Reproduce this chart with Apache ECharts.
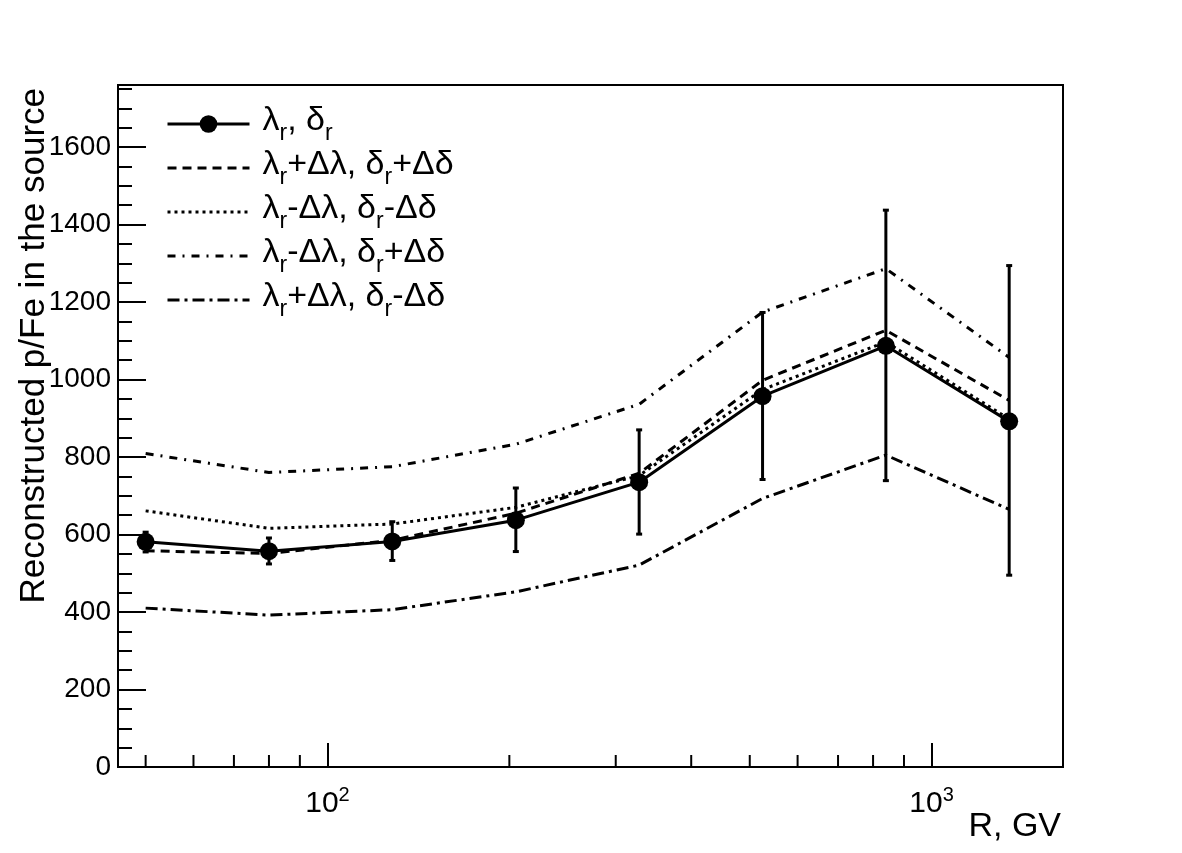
<!DOCTYPE html>
<html><head><meta charset="utf-8">
<script src="https://cdn.jsdelivr.net/npm/echarts@6/dist/echarts.min.js"></script>
<style>html,body{margin:0;padding:0;background:#fff}#c{width:1182px;height:853px}</style>
</head><body><div id="c"></div>
<script>
// ---- data ----
const rigidity   = [50, 80, 128, 205, 328, 525, 840, 1344];           // R, GV
const nominal    = [581, 557, 582, 637, 735, 957, 1087, 892];         // λr, δr
const errLow     = [555, 524, 533, 556, 601, 742, 739, 495];
const errHigh    = [606, 591, 633, 720, 870, 1173, 1437, 1294];
const plusPlus   = [558, 551, 585, 655, 758, 998, 1127, 946];         // λr+Δλ, δr+Δδ
const minusMinus = [661, 616, 627, 670, 752, 974, 1097, 898];         // λr-Δλ, δr-Δδ
const minusPlus  = [809, 760, 775, 833, 936, 1174, 1286, 1057];       // λr-Δλ, δr+Δδ
const plusMinus  = [410, 392, 406, 452, 521, 693, 805, 665];          // λr+Δλ, δr-Δδ
const xMinorTicks = [50, 60, 70, 80, 90, 200, 300, 400, 500, 600, 700, 800, 900];
const seriesNames = ['λr, δr', 'λr+Δλ, δr+Δδ', 'λr-Δλ, δr-Δδ', 'λr-Δλ, δr+Δδ', 'λr+Δλ, δr-Δδ'];
const yTitle = 'Reconstructed p/Fe in the source';
const xTitle = 'R, GV';

const FONT = '"Liberation Sans", Arial, Helvetica, sans-serif';
const pairs = arr => rigidity.map((r, i) => [r, arr[i]]);

function richName(name) {
  // every 'r' in the names is a subscript
  const parts = name.split('r');
  let s = '{g|}';
  parts.forEach((p, i) => {
    if (p) s += '{t|' + p + '}';
    if (i < parts.length - 1) s += '{s|r}';
  });
  return s;
}

const chart = echarts.init(document.getElementById('c'));
const lineBase = (name, data, type) => ({
  name, type: 'line', data, symbol: 'none', showSymbol: false, z: 3,
  lineStyle: { color: '#000', width: 3, type },
  itemStyle: { color: '#000', opacity: 0 }, silent: true, animation: false
});

chart.setOption({
  animation: false,
  backgroundColor: '#fff',
  grid: { left: 118, right: 119, top: 85, bottom: 86, show: true, borderColor: '#000', borderWidth: 2, backgroundColor: 'transparent' },
  xAxis: {
    type: 'log', logBase: 10, min: 45, max: 1650,
    axisLine: { show: true, lineStyle: { color: '#000', width: 2 } },
    axisTick: { show: true, inside: true, length: 24, lineStyle: { color: '#000', width: 2 } },
    splitLine: { show: false },
    axisLabel: {
      showMinLabel: false, showMaxLabel: false, margin: 18,
      formatter: v => '{b|10}{e|' + Math.round(Math.log10(v)) + '}',
      rich: {
        b: { fontSize: 30, fontFamily: FONT, color: '#000', lineHeight: 34, verticalAlign: 'bottom' },
        e: { fontSize: 20, fontFamily: FONT, color: '#000', lineHeight: 20, verticalAlign: 'top' }
      }
    }
  },
  yAxis: [{
    type: 'value', min: 0, max: 1760, interval: 200,
    axisLine: { show: true, lineStyle: { color: '#000', width: 2 } },
    axisTick: { show: true, inside: true, length: 28, lineStyle: { color: '#000', width: 2 } },
    splitLine: { show: false },
    axisLabel: { showMaxLabel: false, margin: 7, fontSize: 28, fontFamily: FONT, color: '#000', formatter: v => String(v) }
  }, {
    type: 'value', position: 'left', min: 0, max: 1760, interval: 50,
    axisLine: { show: false },
    axisTick: { show: true, inside: true, length: 14, lineStyle: { color: '#000', width: 2 } },
    splitLine: { show: false },
    axisLabel: { show: false }
  }],
  legend: {
    orient: 'vertical', left: 161, top: 99, itemWidth: 82, itemHeight: 22, itemGap: 3,
    data: seriesNames, selectedMode: false,
    formatter: richName,
    lineStyle: { width: 3 },
    textStyle: {
      color: '#000',
      rich: {
        g: { width: 8 },
        t: { fontSize: 34, fontFamily: FONT, color: '#000', lineHeight: 40, verticalAlign: 'top' },
        s: { fontSize: 23, fontFamily: FONT, color: '#000', lineHeight: 23, padding: [18, 0, 0, 0], verticalAlign: 'top' }
      }
    }
  },
  graphic: [
    { type: 'text', x: 34, y: 88, rotation: Math.PI / 2,
      style: { text: yTitle, fontSize: 35, fontFamily: FONT, fill: '#000', align: 'right', verticalAlign: 'middle' } },
    { type: 'text', x: 1061, y: 827,
      style: { text: xTitle, fontSize: 34, fontFamily: FONT, fill: '#000', align: 'right', verticalAlign: 'middle' } }
  ],
  series: [
    {
      name: 'errbars', type: 'custom', z: 4, silent: true,
      data: rigidity.map((r, i) => [r, errLow[i], errHigh[i]]),
      encode: { x: 0, y: [1, 2] },
      renderItem: (params, api) => {
        const x = api.value(0);
        const lo = api.coord([x, api.value(1)]);
        const hi = api.coord([x, api.value(2)]);
        const st = { stroke: '#000', lineWidth: 3 };
        return { type: 'group', children: [
          { type: 'line', shape: { x1: lo[0], y1: lo[1], x2: hi[0], y2: hi[1] }, style: st },
          { type: 'line', shape: { x1: lo[0] - 3, y1: lo[1], x2: lo[0] + 3, y2: lo[1] }, style: st },
          { type: 'line', shape: { x1: hi[0] - 3, y1: hi[1], x2: hi[0] + 3, y2: hi[1] }, style: st }
        ]};
      }
    },
    {
      name: 'xminor', type: 'custom', z: 5, silent: true, clip: false,
      data: xMinorTicks.map(v => [v, 0]),
      encode: { x: 0, y: 1 },
      renderItem: (params, api) => {
        const p = api.coord([api.value(0), 0]);
        return { type: 'line', shape: { x1: p[0], y1: p[1], x2: p[0], y2: p[1] - 12 }, style: { stroke: '#000', lineWidth: 2 } };
      }
    },
    lineBase(seriesNames[1], pairs(plusPlus), [9, 6]),
    lineBase(seriesNames[2], pairs(minusMinus), [3, 4]),
    lineBase(seriesNames[3], pairs(minusPlus), [8, 7, 2, 7]),
    lineBase(seriesNames[4], pairs(plusMinus), [12, 5, 3, 5]),
    {
      name: seriesNames[0], type: 'line', data: pairs(nominal), z: 6,
      symbol: 'circle', symbolSize: 18, showSymbol: true,
      lineStyle: { color: '#000', width: 3, type: 'solid' },
      itemStyle: { color: '#000' }, silent: true
    }
  ]
});
</script></body></html>
